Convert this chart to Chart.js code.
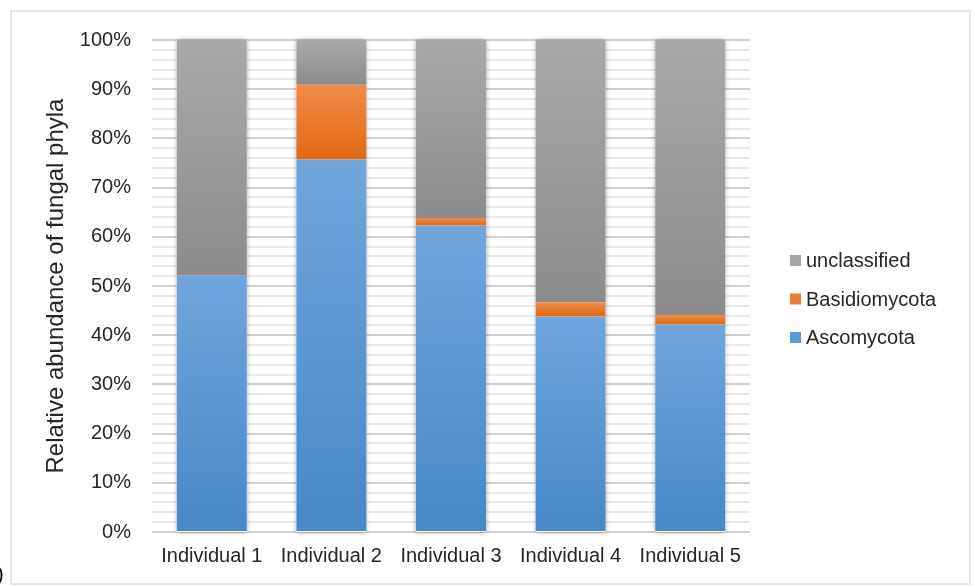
<!DOCTYPE html>
<html>
<head>
<meta charset="utf-8">
<script src="https://cdn.jsdelivr.net/npm/chart.js@4.4.1/dist/chart.umd.min.js"></script>
<style>
  html, body { margin: 0; padding: 0; background: #ffffff; }
  #wrap { position: relative; width: 975px; height: 587px; }
</style>
</head>
<body>
<div id="wrap"><canvas id="c" width="975" height="587"></canvas></div>
<script>
// Relative abundance (%) of fungal phyla per individual
const categories = ['Individual 1', 'Individual 2', 'Individual 3', 'Individual 4', 'Individual 5'];
const ascomycota = [52.1, 75.7, 62.3, 43.8, 42.2];
const basidiomycota = [0, 15.2, 1.5, 2.9, 1.9];
const unclassified = [47.9, 9.1, 36.2, 53.3, 55.9];
const seriesNames = ['Ascomycota', 'Basidiomycota', 'unclassified'];
const yTicks = [0, 10, 20, 30, 40, 50, 60, 70, 80, 90, 100];

const FONT = '"Liberation Sans", Arial, Helvetica, sans-serif';
const TEXT = '#262626';

// Gradient stops (top, bottom) and legend swatch colour per series
const palette = [
  { top: '#70a6dc', bottom: '#4788c8', swatch: '#5b9bd5' },
  { top: '#f08b4d', bottom: '#e2690f', swatch: '#ed7d31' },
  { top: '#a9a9a9', bottom: '#8c8c8c', swatch: '#a5a5a5' }
];
const seriesValues = [ascomycota, basidiomycota, unclassified];

// Each stacked segment gets its own vertical gradient
function segmentFill(ctx) {
  const chart = ctx.chart;
  const y = chart.scales.y;
  if (!y || ctx.type !== 'data') return palette[ctx.datasetIndex].swatch;
  const di = ctx.datasetIndex, i = ctx.dataIndex;
  let base = 0;
  for (let k = 0; k < di; k++) base += seriesValues[k][i];
  const top = base + seriesValues[di][i];
  const y0 = y.getPixelForValue(top), y1 = y.getPixelForValue(base);
  if (!isFinite(y0) || !isFinite(y1) || y0 === y1) return palette[di].swatch;
  const g = chart.ctx.createLinearGradient(0, y0, 0, y1);
  g.addColorStop(0, palette[di].top);
  g.addColorStop(1, palette[di].bottom);
  return g;
}

// Page frame, white background and soft shadow under each full bar
const framePlugin = {
  id: 'frame',
  beforeDraw(chart) {
    const c = chart.ctx;
    c.save();
    c.fillStyle = '#ffffff';
    c.fillRect(0, 0, chart.width, chart.height);
    c.strokeStyle = '#dcdcdc';
    c.lineWidth = 1.5;
    c.strokeRect(11, 11, 959, 573);
    c.fillStyle = '#000000';
    c.font = '20px ' + FONT;
    c.textBaseline = 'alphabetic';
    c.fillText(')', -3, 581);
    c.restore();
  },
  beforeDatasetsDraw(chart) {
    const c = chart.ctx;
    const y = chart.scales.y;
    const meta = chart.getDatasetMeta(0);
    const top = y.getPixelForValue(100), bottom = y.getPixelForValue(0);
    c.save();
    c.shadowColor = 'rgba(0,0,0,0.38)';
    c.shadowBlur = 5;
    c.fillStyle = '#ffffff';
    meta.data.forEach(bar => {
      c.fillRect(bar.x - bar.width / 2, top, bar.width, bottom - top);
    });
    c.restore();
  },
  afterDraw(chart) {
    // Legend, listed top-down in reverse stacking order
    const c = chart.ctx;
    c.save();
    c.font = '20px ' + FONT;
    c.textBaseline = 'middle';
    c.textAlign = 'left';
    const ys = [260.5, 299, 337.5];
    for (let n = 0; n < 3; n++) {
      const di = 2 - n;
      const cy = ys[n];
      c.fillStyle = palette[di].swatch;
      c.fillRect(790, cy - 5.5, 11, 11);
      c.fillStyle = TEXT;
      c.fillText(chart.data.datasets[di].label, 806, cy + 1);
    }
    c.restore();
  }
};

new Chart(document.getElementById('c'), {
  type: 'bar',
  data: {
    labels: categories,
    datasets: seriesValues.map((vals, i) => ({
      label: seriesNames[i],
      data: vals,
      backgroundColor: segmentFill,
      borderWidth: 0,
      barPercentage: 0.585,
      categoryPercentage: 1.0
    }))
  },
  options: {
    responsive: false,
    animation: false,
    devicePixelRatio: 1,
    layout: { padding: { left: 30, right: 225, top: 40, bottom: 0 } },
    plugins: {
      legend: { display: false },
      tooltip: { enabled: false }
    },
    scales: {
      x: {
        stacked: true,
        grid: { display: false, drawTicks: false },
        border: { display: false },
        ticks: {
          padding: 12,
          color: TEXT,
          font: { family: FONT, size: 20 },
          maxRotation: 0
        },
        afterFit(s) { s.height = 55; }
      },
      y: {
        stacked: true,
        min: 0,
        max: 100,
        border: { display: false },
        grid: {
          drawTicks: false,
          lineWidth: 2,
          color: ctx => (ctx.tick && ctx.tick.value % 10 === 0) ? '#d0d0d0' : '#eaeaea'
        },
        ticks: {
          stepSize: 2,
          autoSkip: false,
          padding: 21,
          color: TEXT,
          font: { family: FONT, size: 20 },
          callback: v => yTicks.includes(v) ? v + '%' : ''
        },
        title: {
          display: true,
          text: 'Relative abundance of fungal phyla',
          color: TEXT,
          font: { family: FONT, size: 24, lineHeight: 1.2 },
          padding: { top: 12, bottom: 0 }
        },
        afterFit(s) { s.width = 122; }
      }
    }
  },
  plugins: [framePlugin]
});
</script>
</body>
</html>
